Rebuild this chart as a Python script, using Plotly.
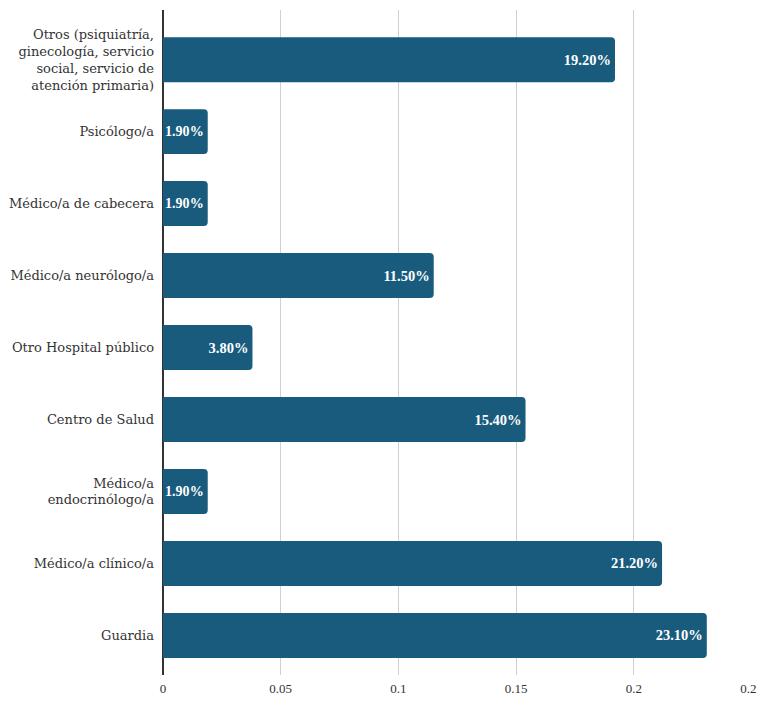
import plotly.graph_objects as go

categories = [
    "Guardia",
    "Médico/a clínico/a",
    "Médico/a<br>endocrinólogo/a",
    "Centro de Salud",
    "Otro Hospital público",
    "Médico/a neurólogo/a",
    "Médico/a de cabecera",
    "Psicólogo/a",
    "Otros (psiquiatría,<br>ginecología, servicio<br>social, servicio de<br>atención primaria)",
]
values = [0.231, 0.212, 0.019, 0.154, 0.038, 0.115, 0.019, 0.019, 0.192]
tick_vals = [0, 0.05, 0.1, 0.15, 0.2, 0.25]
tick_text = ["0", "0.05", "0.1", "0.15", "0.2", "0.25"]

SERIF = "Liberation Serif"
LABEL_SERIF = "DejaVu Serif"

fig = go.Figure(go.Bar(
    y=list(range(len(categories))),
    x=values,
    orientation="h",
    width=0.625,
    marker=dict(color="#195b7d", cornerradius=4, line=dict(width=0)),
    texttemplate="%{x:.2%}",
    textposition="inside",
    insidetextanchor="end",
    textangle=0,
    constraintext="none",
    textfont=dict(family=SERIF, size=14.5, color="white", weight="bold"),
    hoverinfo="skip",
))

# page body has an 8px margin, so the figure is sized to fit the window
fig.update_layout(
    width=757, height=698,
    margin=dict(l=155, r=13, t=2, b=31, autoexpand=False),
    plot_bgcolor="white", paper_bgcolor="white",
    font=dict(family=SERIF, color="#333333"),
    showlegend=False,
    xaxis=dict(
        range=[0, 0.2502],
        tickvals=tick_vals, ticktext=tick_text,
        showgrid=True, gridcolor="#d0d0d0", gridwidth=1,
        zeroline=True, zerolinecolor="#333333", zerolinewidth=1.5,
        tickfont=dict(family=SERIF, size=13, color="#333333"),
        ticks="", showline=False, automargin=False,
        ticklabelstandoff=4, ticklabeloverflow="allow",
    ),
    yaxis=dict(
        range=[-0.55, 8.69],
        tickvals=list(range(len(categories))), ticktext=categories,
        showgrid=False, zeroline=False, showline=False,
        ticks="", ticklabelstandoff=8, automargin=False,
        tickfont=dict(family=LABEL_SERIF, size=13, color="#333333"),
    ),
)

fig.write_html("out.html")
